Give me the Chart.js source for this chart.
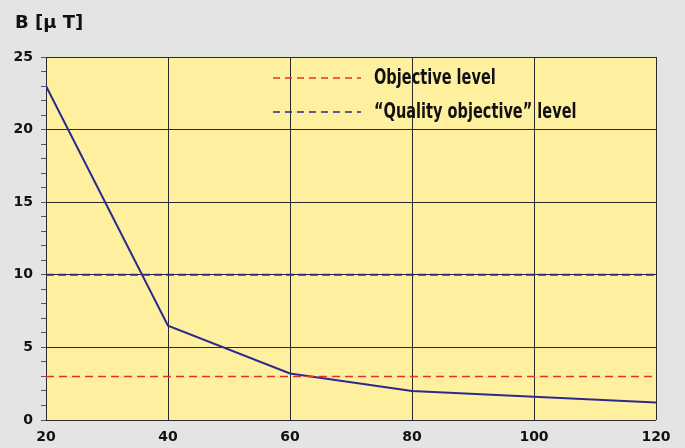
<!DOCTYPE html>
<html>
<head>
<meta charset="utf-8">
<script src="https://cdn.jsdelivr.net/npm/chart.js@4.4.1/dist/chart.umd.min.js"></script>
<style>
  html, body { margin: 0; padding: 0; background: #e4e4e4; }
  #wrap { width: 685px; height: 448px; }
</style>
</head>
<body>
<div id="wrap"><canvas id="myChart" width="685" height="448"></canvas></div>
<script>
// distance / field values
var distances = [20, 40, 60, 80, 100, 120];
var fieldValues = [23, 6.5, 3.2, 2.0, 1.6, 1.2];
var objectiveLevel = [3, 3, 3, 3, 3, 3];
var qualityLevel = [10, 10, 10, 10, 10, 10];
var legendLabels = ['Objective level', '\u201cQuality objective\u201d level'];
var yTitle = 'B [\u00b5 T]';

function toPoints(vals){
    var pts = [];
    for (var i = 0; i < distances.length; i++) {
        pts.push({x: distances[i], y: vals[i]});
    }
    return pts;
}

var tickFont = {family: '"DejaVu Sans", Verdana, sans-serif', size: 14, weight: 'bold'};

// yellow plot area, title and the little legend inside the plot
var decor = {
    id: 'decor',
    beforeDraw: function(chart){
        var c = chart.ctx, a = chart.chartArea;
        c.save();
        c.fillStyle = '#fff0a0';
        c.fillRect(a.left, a.top, a.right - a.left, a.bottom - a.top);
        c.fillStyle = '#111';
        c.font = 'bold 18px "DejaVu Sans", Verdana, sans-serif';
        c.textBaseline = 'alphabetic';
        c.fillText(yTitle, 15, 28);
        c.restore();
    },
    afterDatasetsDraw: function(chart){
        var c = chart.ctx, a = chart.chartArea;
        var ds = chart.data.datasets;
        var x0 = a.left + 227, rowY = [a.top + 21, a.top + 55];
        c.save();
        var k = 0;
        for (var i = 0; i < ds.length; i++) {
            if (!ds[i].inLegend) continue;
            var y = rowY[k];
            c.strokeStyle = ds[i].borderColor;
            c.lineWidth = 1.5;
            c.setLineDash([7, 5]);
            c.beginPath();
            c.moveTo(x0, y);
            c.lineTo(x0 + 88, y);
            c.stroke();
            c.setLineDash([]);
            // condensed look: squeeze the text sideways
            c.save();
            c.translate(x0 + 101, y + 1);
            c.scale(0.77, 1);
            c.fillStyle = '#111';
            c.font = 'bold 21px "Liberation Sans Narrow", "DejaVu Sans Condensed", sans-serif';
            c.textBaseline = 'middle';
            c.fillText(legendLabels[k], 0, 0);
            c.restore();
            k++;
        }
        c.restore();
    }
};

var ctx = document.getElementById('myChart').getContext('2d');
var chart = new Chart(ctx, {
    type: 'line',
    data: {
        datasets: [
            {
                label: legendLabels[0],
                data: toPoints(objectiveLevel),
                borderColor: '#e8302a',
                borderWidth: 1.5,
                borderDash: [8, 5],
                pointRadius: 0,
                inLegend: true
            },
            {
                label: legendLabels[1],
                data: toPoints(qualityLevel),
                borderColor: '#2e2a8c',
                borderWidth: 2,
                borderDash: [8, 4],
                pointRadius: 0,
                inLegend: true
            },
            {
                label: 'B',
                data: toPoints(fieldValues),
                borderColor: '#2e2a8c',
                borderWidth: 2,
                pointRadius: 0,
                tension: 0
            }
        ]
    },
    options: {
        responsive: false,
        devicePixelRatio: 1,
        animation: false,
        layout: {padding: {left: 0, top: 57, right: 29, bottom: 0}},
        plugins: {legend: {display: false}, tooltip: {enabled: false}},
        scales: {
            x: {
                type: 'linear',
                min: 20, max: 120,
                border: {display: false},
                grid: {color: '#2a2a2a', lineWidth: 1, drawTicks: false},
                ticks: {stepSize: 20, color: '#111', font: tickFont, padding: 9, maxRotation: 0},
                afterFit: function(s){ s.height = 28; }
            },
            y: {
                min: 0, max: 25,
                border: {display: false},
                grid: {
                    color: function(c){ return c.tick && c.tick.value % 5 === 0 ? '#2a2a2a' : 'rgba(0,0,0,0)'; },
                    tickColor: '#555',
                    tickLength: 5,
                    lineWidth: 1
                },
                ticks: {
                    stepSize: 1,
                    autoSkip: false,
                    color: '#111',
                    font: tickFont,
                    padding: 8,
                    callback: function(v){ return v % 5 === 0 ? String(v) : ''; }
                },
                afterFit: function(s){ s.width = 46; }
            }
        }
    },
    plugins: [decor]
});
</script>
</body>
</html>
